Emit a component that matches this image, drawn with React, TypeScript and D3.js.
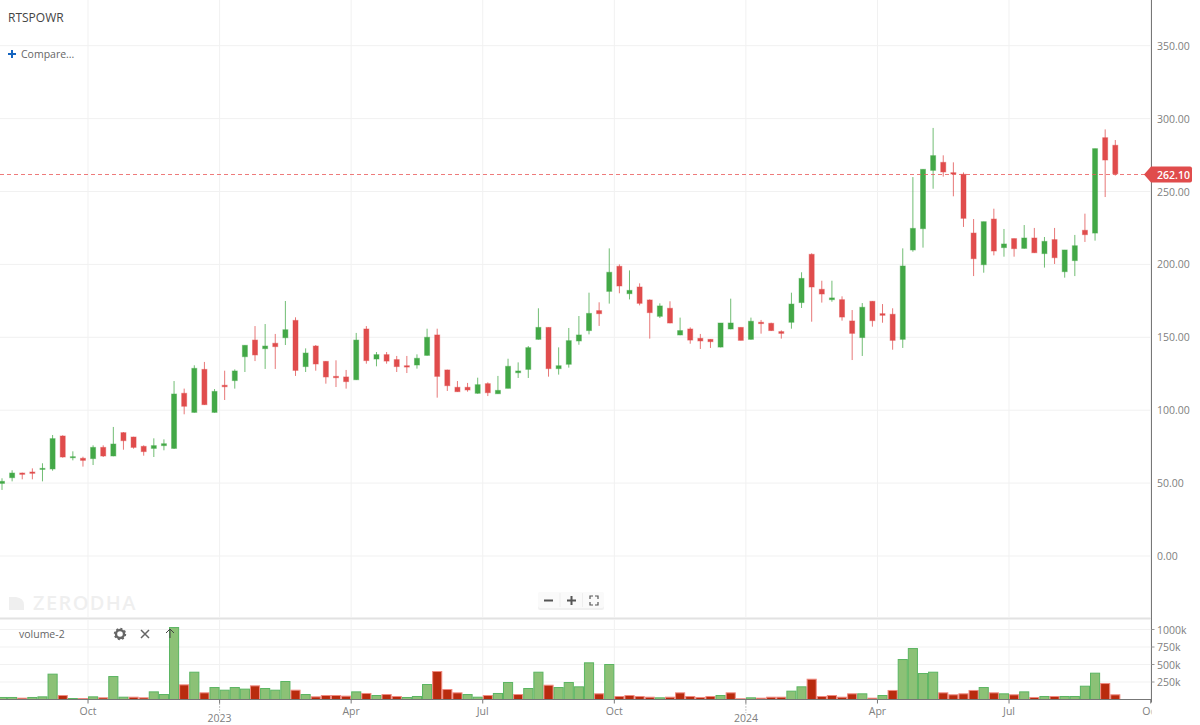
import React from 'react';
import * as d3 from 'd3';

// weekly candles
const opens = [
  49.8, 53.7, 56.9, 57.6, 59.4, 59.7, 82.3, 67.4, 67.0, 66.8,
  74.5, 68.6, 84.6, 81.6, 75.2, 73.8, 75.7, 73.8, 111.6, 98.5,
  128.0, 98.5, 117.1, 120.3, 136.7, 148.1, 142.2, 145.9, 149.7, 161.6,
  129.9, 144.0, 133.5, 123.2, 122.8, 120.9, 155.7, 135.1, 138.1, 134.7,
  130.5, 131.0, 137.6, 151.6, 127.6, 115.7, 115.7, 111.6, 118.2, 111.3,
  115.0, 125.7, 128.0, 148.6, 156.8, 128.5, 131.5, 147.5, 154.6, 168.3,
  181.5, 198.7, 179.9, 184.5, 175.6, 164.4, 169.9, 151.6, 155.7, 149.3,
  148.6, 143.3, 155.7, 156.8, 148.6, 160.3, 159.6, 153.9, 160.3, 173.8,
  206.9, 182.9, 175.8, 175.8, 161.2, 149.8, 174.7, 166.2, 165.8, 148.6,
  209.9, 224.5, 264.5, 270.0, 262.9, 261.8, 221.5, 199.8, 231.1, 211.5,
  217.7, 211.0, 218.1, 207.4, 217.0, 195.0, 202.6, 223.4, 221.5, 286.9, 281.7,
];
const highs = [
  53.3, 58.8, 57.2, 60.1, 63.6, 83.0, 82.8, 71.8, 68.1, 75.9,
  75.9, 88.5, 85.0, 81.8, 75.9, 80.7, 80.0, 120.0, 114.8, 130.8,
  133.1, 114.5, 127.1, 128.0, 144.5, 157.7, 159.1, 152.3, 174.9, 163.7,
  142.4, 144.7, 133.7, 134.2, 127.6, 153.0, 157.7, 139.9, 139.9, 137.2,
  137.2, 138.3, 155.9, 155.9, 127.8, 120.0, 118.7, 122.3, 119.1, 123.5,
  135.3, 132.8, 144.0, 169.9, 156.8, 143.1, 156.4, 164.6, 180.6, 174.0,
  211.0, 200.0, 195.9, 187.0, 176.0, 173.3, 174.7, 163.5, 156.8, 152.3,
  148.6, 159.8, 176.5, 156.8, 163.5, 161.9, 160.0, 154.8, 180.6, 194.6,
  207.6, 188.8, 188.8, 178.1, 168.7, 173.5, 174.9, 172.8, 169.9, 211.0,
  259.9, 265.2, 293.6, 274.8, 270.0, 263.1, 231.1, 229.3, 238.2, 224.3,
  217.7, 227.0, 225.0, 218.8, 225.0, 209.9, 220.2, 234.8, 279.4, 292.6, 285.3,
];
const lows = [
  45.3, 51.2, 52.6, 52.6, 51.2, 58.5, 67.4, 65.6, 61.3, 62.4,
  67.9, 68.4, 72.9, 73.6, 68.8, 67.9, 72.5, 73.4, 97.2, 98.3,
  103.6, 98.3, 107.0, 114.8, 126.2, 133.7, 128.3, 128.3, 144.7, 123.5,
  126.2, 127.1, 118.2, 115.9, 114.8, 120.7, 131.9, 130.1, 131.9, 126.2,
  125.5, 128.5, 137.4, 108.6, 113.2, 112.7, 112.7, 111.3, 109.7, 111.3,
  115.0, 122.1, 122.1, 148.4, 123.0, 124.4, 129.2, 144.9, 152.0, 157.8,
  173.1, 180.2, 176.0, 171.9, 149.1, 163.2, 159.6, 151.4, 145.6, 142.0,
  142.7, 143.1, 155.5, 147.9, 148.4, 152.5, 154.3, 149.1, 155.9, 170.1,
  160.7, 173.8, 174.4, 161.4, 134.4, 137.2, 157.3, 160.0, 141.5, 142.7,
  208.7, 211.5, 251.9, 260.2, 246.7, 225.7, 192.0, 194.3, 206.2, 205.3,
  205.3, 210.8, 207.8, 197.8, 200.3, 190.9, 192.0, 215.4, 216.3, 246.2, 260.9,
];
const closes = [
  51.2, 56.9, 56.0, 56.7, 60.1, 80.5, 67.9, 68.1, 65.6, 74.5,
  68.6, 76.8, 79.1, 74.5, 71.6, 75.7, 77.0, 111.1, 102.7, 128.7,
  103.8, 112.9, 116.1, 126.9, 144.5, 137.9, 144.0, 143.6, 155.2, 127.3,
  139.2, 131.7, 122.8, 122.3, 119.6, 148.1, 134.0, 138.1, 133.7, 129.9,
  129.6, 135.6, 150.0, 123.2, 116.8, 112.7, 113.9, 117.5, 112.0, 113.6,
  130.1, 126.9, 142.9, 156.8, 128.5, 130.5, 147.7, 151.6, 166.4, 166.2,
  194.6, 185.2, 182.2, 173.3, 166.9, 171.5, 159.8, 154.6, 148.1, 147.5,
  147.0, 159.8, 159.8, 147.9, 161.0, 159.4, 154.6, 152.7, 172.8, 190.4,
  184.5, 179.7, 177.0, 163.9, 152.7, 170.6, 161.4, 165.1, 147.9, 198.9,
  224.7, 265.2, 274.6, 263.4, 262.0, 231.6, 203.9, 229.3, 209.2, 214.0,
  210.8, 218.1, 208.0, 215.8, 204.6, 209.9, 212.8, 220.4, 279.4, 271.6, 262.1,
];

// thousands of shares
const volumes = [
  29, 29, 19, 29, 38, 362, 57, 14, 14, 38,
  24, 328, 33, 33, 24, 109, 71, 1028, 209, 390,
  95, 171, 133, 171, 148, 195, 157, 133, 257, 133,
  71, 38, 57, 57, 48, 109, 86, 57, 71, 43,
  29, 43, 214, 400, 143, 95, 71, 33, 57, 86,
  243, 71, 157, 390, 204, 171, 243, 181, 524, 81,
  500, 43, 57, 43, 33, 24, 33, 95, 43, 29,
  43, 57, 95, 10, 24, 19, 33, 33, 119, 181,
  290, 43, 57, 33, 81, 81, 19, 57, 129, 571,
  728, 371, 390, 95, 67, 81, 129, 171, 95, 81,
  67, 109, 29, 43, 43, 43, 43, 190, 376, 228, 67,
];
// 1 = the red volume bars
const volumeDown = [
  0, 0, 1, 0, 0, 0, 1, 0, 1, 0,
  1, 0, 0, 1, 1, 0, 0, 0, 1, 0,
  1, 0, 0, 0, 0, 1, 0, 0, 0, 1,
  0, 1, 1, 1, 1, 0, 1, 0, 1, 1,
  0, 0, 0, 1, 1, 1, 0, 0, 1, 0,
  0, 1, 0, 0, 1, 0, 0, 0, 0, 1,
  0, 1, 1, 1, 1, 0, 1, 1, 1, 1,
  1, 0, 1, 1, 0, 1, 1, 1, 0, 0,
  1, 1, 1, 1, 1, 0, 1, 0, 1, 0,
  0, 0, 0, 1, 1, 1, 1, 0, 1, 0,
  1, 0, 1, 0, 1, 0, 0, 0, 0, 1, 1,
];

const priceTicks = [0, 50, 100, 150, 200, 250, 300, 350];
const volumeTicks = [250, 500, 750, 1000];
const lastPrice = 262.1;
const timeLabels = ['Oct', '2023', 'Apr', 'Jul', 'Oct', '2024', 'Apr', 'Jul', 'Oct'];
const timeIndexes = [8.5, 21.5, 34.5, 47.5, 60.5, 73.5, 86.5, 99.5, 113.5];

const WIDTH = 1200;
const HEIGHT = 725;
const AXIS_X = 1151.5;
const MAIN_BOTTOM = 617;
const VOL_TOP = 620;
const VOL_BOTTOM = 699.5;

const GREEN = '#43a847';
const RED = '#e04c4c';
const GRID = '#f1f1f1';
const AXIS_TEXT = '#808080';
const FONT = '"Open Sans", sans-serif';

const x = d3.scaleLinear().domain([0, 110]).range([2, 1115.3]);
const y = d3.scaleLinear().domain([0, 350]).range([556, 45.7]);
const yVol = d3.scaleLinear().domain([0, 1000]).range([VOL_BOTTOM, 629.5]);
const step = x(1) - x(0);

const App: React.FC = () => (
  <svg
    width={WIDTH}
    height={HEIGHT}
    viewBox={`0 0 ${WIDTH} ${HEIGHT}`}
    style={{ position: 'absolute', left: 0, top: 0, background: '#fff', fontFamily: FONT }}
  >
    <defs>
      <clipPath id="plot-area">
        <rect x={0} y={0} width={AXIS_X} height={HEIGHT} />
      </clipPath>
    </defs>

    {/* grid */}
    {priceTicks.map(t => (
      <line key={t} x1={0} x2={AXIS_X} y1={y(t)} y2={y(t)} stroke={GRID} strokeWidth={1} />
    ))}
    {volumeTicks.map(t => (
      <line key={t} x1={0} x2={AXIS_X} y1={yVol(t)} y2={yVol(t)} stroke={GRID} strokeWidth={1} />
    ))}
    {timeIndexes.map(t => (
      <g key={t} stroke={GRID} strokeWidth={1}>
        <line x1={x(t)} x2={x(t)} y1={0} y2={MAIN_BOTTOM} />
        <line x1={x(t)} x2={x(t)} y1={VOL_TOP} y2={VOL_BOTTOM} />
      </g>
    ))}

    {/* watermark */}
    <path d="M9 597h15v13H9z" fill="#efefef" />
    <path d="M16 597q8 1 8 8v-8z" fill="#fff" />
    <text x={33} y={609.5} fontSize={20} fontWeight={600} letterSpacing={1.4} fill="#efefef">
      ZERODHA
    </text>

    {/* candles */}
    {opens.map((o, i) => {
      const c = closes[i];
      const up = c >= o;
      const color = up ? GREEN : RED;
      const cx = x(i);
      const top = y(Math.max(o, c));
      const bottom = y(Math.min(o, c));
      return (
        <g key={i}>
          <line x1={cx} x2={cx} y1={y(highs[i])} y2={y(lows[i])} stroke={color} strokeWidth={1} opacity={0.75} />
          <rect
            x={cx - 2.5}
            y={top}
            width={5}
            height={Math.max(bottom - top, 1)}
            fill={color}
            stroke={color}
            strokeOpacity={0.45}
            strokeWidth={1}
          />
        </g>
      );
    })}

    {/* last price */}
    <line x1={0} x2={1146} y1={174.5} y2={174.5} stroke="#ea5a5a" strokeOpacity={0.8} strokeWidth={1} strokeDasharray="4 3" />

    {/* volume */}
    {volumes.map((v, i) => (
      <rect
        key={i}
        x={x(i) - step / 2 + 0.5}
        y={yVol(v)}
        width={step - 1}
        height={VOL_BOTTOM - yVol(v)}
        fill={volumeDown[i] ? '#b92b0e' : '#8cc176'}
        stroke={volumeDown[i] ? '#f08a80' : '#5bb562'}
        strokeWidth={1}
      />
    ))}

    {/* pane divider and axes */}
    <line x1={0} x2={AXIS_X} y1={618.5} y2={618.5} stroke="#e2e2e2" strokeWidth={2} />
    <line x1={0} x2={AXIS_X} y1={VOL_BOTTOM} y2={VOL_BOTTOM} stroke="#777" strokeWidth={1} />
    <line x1={AXIS_X} x2={AXIS_X} y1={0} y2={VOL_BOTTOM + 3} stroke="#777" strokeWidth={1} />
    {priceTicks.map(t => (
      <text key={t} x={1157} y={y(t) + 4} fontSize={10.5} fill={AXIS_TEXT}>
        {t.toFixed(2)}
      </text>
    ))}
    {volumeTicks.map(t => (
      <g key={t}>
        <line x1={AXIS_X} x2={AXIS_X + 3} y1={yVol(t)} y2={yVol(t)} stroke="#999" />
        <text x={1157} y={yVol(t) + 4} fontSize={10.5} fill={AXIS_TEXT}>
          {t}k
        </text>
      </g>
    ))}

    {/* time axis */}
    <g clipPath="url(#plot-area)">
      {timeLabels.map((label, i) => {
        const tx = x(timeIndexes[i]);
        const isYear = label.length === 4;
        return (
          <g key={i}>
            <line x1={tx} x2={tx} y1={VOL_BOTTOM} y2={VOL_BOTTOM + 4} stroke="#777" />
            {isYear && <line x1={tx} x2={tx} y1={VOL_BOTTOM + 4} y2={713} stroke="#888" strokeDasharray="1 2" />}
            <text x={tx} y={isYear ? 722 : 715} textAnchor="middle" fontSize={10.5} fill={AXIS_TEXT}>
              {label}
            </text>
          </g>
        );
      })}
    </g>

    {/* price tag */}
    <path d="M1144 174.500l7 -8h39a2 2 0 0 1 2 2v12a2 2 0 0 1 -2 2h-39z" fill="#e04c4c" />
    <text x={1157} y={178.500} fontSize={10.5} fontWeight={600} fill="#fff">
      {lastPrice.toFixed(2)}
    </text>

    {/* header */}
    <text x={8} y={22} fontSize={12} fill="#444">RTSPOWR</text>
    <path d="M8 54h8M12 50v8" stroke="#1565c0" strokeWidth={2} />
    <text x={21} y={57.500} fontSize={10.5} fill="#666">Compare...</text>

    {/* zoom controls */}
    <g>
      <rect x={538} y={592} width={66} height={17} rx={2} fill="#000" opacity={0.06} transform="translate(0 1)" />
      <rect x={538} y={592} width={66} height={16} rx={2} fill="#fafafa" />
      <path d="M544 600.500h9" stroke="#555" strokeWidth={2} />
      <path d="M567 600.500h9M571.500 596v9" stroke="#555" strokeWidth={2} />
      <path
        d="M590 599v-3h3M595 596h3v3M598 602v3h-3M593 605h-3v-3"
        fill="none"
        stroke="#555"
        strokeWidth={1.2}
      />
      <path d="M560 593v14M582.500 593v14" stroke="#eee" />
    </g>

    {/* volume study header */}
    <text x={19} y={638} fontSize={10.5} fill="#666">volume-2</text>
    <circle cx={120} cy={634} r={4} fill="none" stroke="#666" strokeWidth={2.4} />
    <circle cx={120} cy={634} r={5.4} fill="none" stroke="#666" strokeWidth={1.6} strokeDasharray="2 2.2" />
    <path d="M141 630l8 8M149 630l-8 8" stroke="#666" strokeWidth={1.5} />
    <path d="M170 638v-9M166 633l4 -4l4 4" fill="none" stroke="#444" strokeWidth={1} />
  </svg>
);

export default App;
